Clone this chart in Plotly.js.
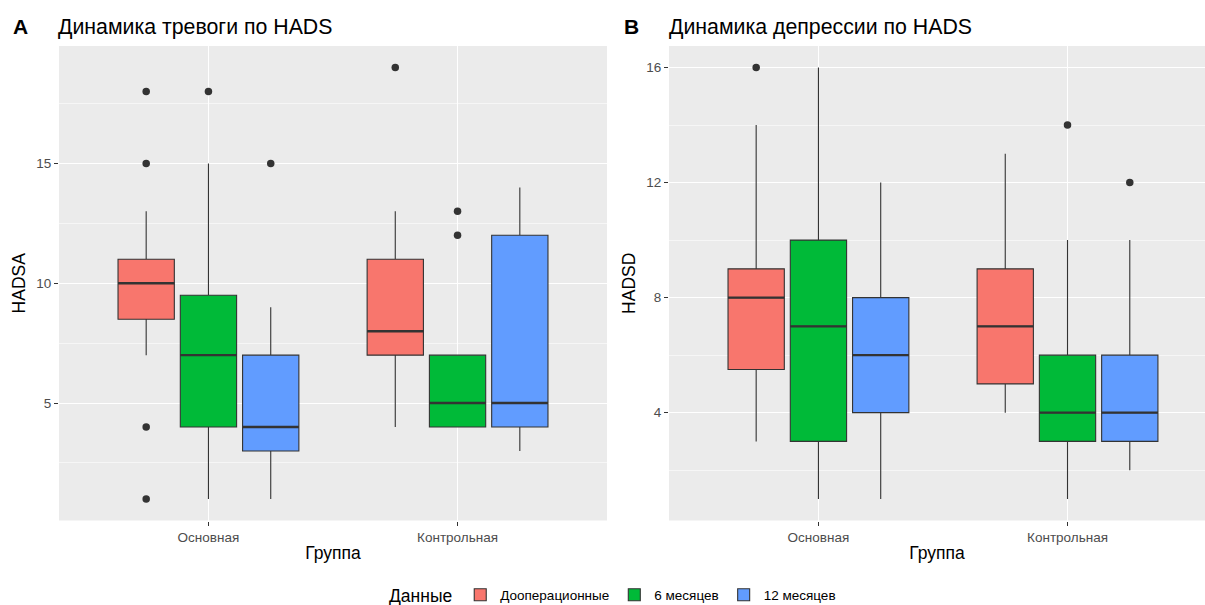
<!DOCTYPE html>
<html>
<head>
<meta charset="utf-8">
<script src="https://cdn.plot.ly/plotly-3.0.1.min.js"></script>
<style>html,body{margin:0;padding:0;background:#fff;}#chart{width:1205px;height:605px;}</style>
</head>
<body>
<div id="chart"></div>
<script>
// ---------- DATA ----------
const groups = ['Основная', 'Контрольная'];
const seriesNames = ['Дооперационные', '6 месяцев', '12 месяцев'];
const seriesColors = ['#F8766D', '#00BA38', '#619CFF'];

// Panel A: HADSA  (values per group: [Основная, Контрольная])
const A_pre_q1 = [8.5, 7],  A_pre_med = [10, 8], A_pre_q3 = [11, 11],  A_pre_lo = [7, 4], A_pre_hi = [13, 13];
const A_6m_q1  = [4, 4],    A_6m_med  = [7, 5],  A_6m_q3  = [9.5, 7],  A_6m_lo  = [1, 4], A_6m_hi  = [15, 7];
const A_12m_q1 = [3, 4],    A_12m_med = [4, 5],  A_12m_q3 = [7, 12],   A_12m_lo = [1, 3], A_12m_hi = [9, 14];
const A_pre_out_grp = [0, 0, 0, 0, 1], A_pre_out_val = [18, 15, 4, 1, 19];
const A_6m_out_grp  = [0, 1, 1],       A_6m_out_val  = [18, 12, 13];
const A_12m_out_grp = [0],             A_12m_out_val = [15];

// Panel B: HADSD
const B_pre_q1 = [5.5, 5], B_pre_med = [8, 7], B_pre_q3 = [9, 9],  B_pre_lo = [3, 4], B_pre_hi = [14, 13];
const B_6m_q1  = [3, 3],   B_6m_med  = [7, 4], B_6m_q3  = [10, 6], B_6m_lo  = [1, 1], B_6m_hi  = [16, 10];
const B_12m_q1 = [4, 3],   B_12m_med = [6, 4], B_12m_q3 = [8, 6],  B_12m_lo = [1, 2], B_12m_hi = [12, 10];
const B_pre_out_grp = [0], B_pre_out_val = [16];
const B_6m_out_grp  = [1], B_6m_out_val  = [14];
const B_12m_out_grp = [1], B_12m_out_val = [12];

const yTicksA = [5, 10, 15];
const yTicksB = [4, 8, 12, 16];

// ---------- BUILD ----------
const dodge = 0.25, boxW = 0.226;
const lineCol = '#333333';
const FF = 'Liberation Sans, Arial, sans-serif';
const panels = [
  {xa: 'x', ya: 'y', stats: [
    [A_pre_q1, A_pre_med, A_pre_q3, A_pre_lo, A_pre_hi, A_pre_out_grp, A_pre_out_val],
    [A_6m_q1, A_6m_med, A_6m_q3, A_6m_lo, A_6m_hi, A_6m_out_grp, A_6m_out_val],
    [A_12m_q1, A_12m_med, A_12m_q3, A_12m_lo, A_12m_hi, A_12m_out_grp, A_12m_out_val]]},
  {xa: 'x2', ya: 'y2', stats: [
    [B_pre_q1, B_pre_med, B_pre_q3, B_pre_lo, B_pre_hi, B_pre_out_grp, B_pre_out_val],
    [B_6m_q1, B_6m_med, B_6m_q3, B_6m_lo, B_6m_hi, B_6m_out_grp, B_6m_out_val],
    [B_12m_q1, B_12m_med, B_12m_q3, B_12m_lo, B_12m_hi, B_12m_out_grp, B_12m_out_val]]}
];

const traces = [];
panels.forEach((p, pi) => {
  p.stats.forEach((s, si) => {
    const off = (si - 1) * dodge;
    const pos = groups.map((g, gi) => gi + off);
    traces.push({
      type: 'box', xaxis: p.xa, yaxis: p.ya,
      x: pos, q1: s[0], median: s[1], q3: s[2], lowerfence: s[3], upperfence: s[4],
      width: boxW, whiskerwidth: 0, boxpoints: false,
      fillcolor: seriesColors[si], line: {color: lineCol, width: 1.1},
      name: seriesNames[si], legendgroup: seriesNames[si], showlegend: pi === 0,
      hoverinfo: 'skip'
    });
    const mx = [], my = [];
    pos.forEach((x, i) => { mx.push(x - boxW / 2, x + boxW / 2, null); my.push(s[1][i], s[1][i], null); });
    traces.push({type: 'scatter', mode: 'lines', xaxis: p.xa, yaxis: p.ya, x: mx, y: my,
      line: {color: lineCol, width: 2.4}, showlegend: false, hoverinfo: 'skip'});
    traces.push({type: 'scatter', mode: 'markers', xaxis: p.xa, yaxis: p.ya,
      x: s[5].map(g => g + off), y: s[6],
      marker: {color: lineCol, size: 7.5}, showlegend: false, hoverinfo: 'skip'});
  });
});

const W = 1205, H = 605;
const px = v => v / W, py = v => 1 - v / H;
const tickFont = {family: FF, size: 13.5, color: '#4D4D4D'};
const titleFont = {family: FF, size: 17.5, color: '#000'};

function xAxis(domain, range, anchor) {
  return {domain: domain, range: range, anchor: anchor, tickmode: 'array', tickvals: groups.map((g, i) => i), ticktext: groups,
    showgrid: true, gridcolor: '#FFFFFF', gridwidth: 1.1, zeroline: false, showline: false,
    ticks: 'outside', ticklen: 4, tickcolor: lineCol, tickwidth: 1, tickfont: tickFont,
    title: {text: 'Группа', font: titleFont, standoff: 3}, fixedrange: true};
}
function yAxis(domain, range, anchor, tv, minor0, minorD, label) {
  return {domain: domain, range: range, anchor: anchor, tickmode: 'array', tickvals: tv, ticktext: tv.map(String),
    showgrid: true, gridcolor: '#FFFFFF', gridwidth: 1.1, zeroline: false, showline: false,
    ticks: 'outside', ticklen: 4, tickcolor: lineCol, tickwidth: 1, tickfont: tickFont,
    minor: {tickmode: 'linear', tick0: minor0, dtick: minorD, showgrid: true, gridcolor: '#FFFFFF', gridwidth: 0.55, ticks: ''},
    title: {text: label, font: titleFont, standoff: 6}, fixedrange: true};
}

const yDom = [py(520.5), py(46)];
const layout = {
  width: W, height: H, margin: {l: 0, r: 0, t: 0, b: 0, autoexpand: false},
  paper_bgcolor: '#FFFFFF', plot_bgcolor: '#EBEBEB',
  boxmode: 'overlay',
  font: {family: FF},
  xaxis: xAxis([px(59), px(607)], [-0.6, 1.6], 'y'),
  yaxis: yAxis(yDom, [0.1, 19.9], 'x', yTicksA, 2.5, 5, 'HADSA'),
  xaxis2: xAxis([px(669), 1], [-0.6, 1.552], 'y2'),
  yaxis2: yAxis(yDom, [0.25, 16.75], 'x2', yTicksB, 2, 4, 'HADSD'),
  showlegend: true,
  legend: {orientation: 'h', x: px(614), xanchor: 'center', y: py(596), yanchor: 'middle',
    title: {text: 'Данные', side: 'left', font: {family: FF, size: 17.5, color: '#000'}},
    font: {family: FF, size: 13.5, color: '#000'},
    itemwidth: 30,
    itemclick: false, itemdoubleclick: false, traceorder: 'normal'},
  annotations: [
    {xref: 'paper', yref: 'paper', x: px(11), y: py(27), xanchor: 'left', yanchor: 'middle', showarrow: false,
      text: '<b>A</b>', font: {family: FF, size: 21, color: '#000'}},
    {xref: 'paper', yref: 'paper', x: px(56), y: py(27), xanchor: 'left', yanchor: 'middle', showarrow: false,
      text: 'Динамика тревоги по HADS', font: {family: FF, size: 21.3, color: '#000'}},
    {xref: 'paper', yref: 'paper', x: px(622), y: py(27), xanchor: 'left', yanchor: 'middle', showarrow: false,
      text: '<b>B</b>', font: {family: FF, size: 21, color: '#000'}},
    {xref: 'paper', yref: 'paper', x: px(667), y: py(27), xanchor: 'left', yanchor: 'middle', showarrow: false,
      text: 'Динамика депрессии по HADS', font: {family: FF, size: 21.3, color: '#000'}}
  ]
};

Plotly.newPlot('chart', traces, layout, {displayModeBar: false, staticPlot: true});
</script>
</body>
</html>
